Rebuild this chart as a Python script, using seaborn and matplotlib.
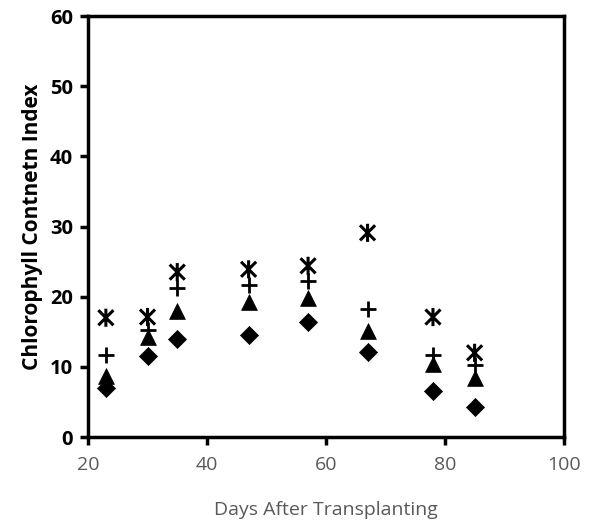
import numpy as np
import pandas as pd
import matplotlib
matplotlib.use("Agg")
import matplotlib.pyplot as plt
from matplotlib.path import Path
import seaborn as sns

days = [23, 30, 35, 47, 57, 67, 78, 85]
series_a = [7.0, 11.5, 14.0, 14.5, 16.4, 12.1, 6.5, 4.3]    # diamonds
series_b = [8.7, 14.3, 18.0, 19.2, 19.8, 15.1, 10.4, 8.4]   # triangles
series_c = [11.7, 15.2, 21.2, 21.6, 22.3, 18.2, 11.7, 10.3] # plus
series_d = [17.0, 17.1, 23.5, 23.9, 24.4, 29.1, 17.1, 12.0] # stars
series_names = ["A", "B", "C", "D"]
x_ticks = [20, 40, 60, 80, 100]
y_ticks = [0, 10, 20, 30, 40, 50, 60]

df = pd.concat([
    pd.DataFrame({"days": days, "value": vals, "series": name})
    for name, vals in zip(series_names, [series_a, series_b, series_c, series_d])
])

sns.set_theme(style="white")
plt.rcParams["font.family"] = ["Open Sans", "DejaVu Sans"]

star = Path([(-1, -1), (1, 1), (-1, 1), (1, -1), (0, -1.2), (0, 1.2)],
            [Path.MOVETO, Path.LINETO, Path.MOVETO, Path.LINETO, Path.MOVETO, Path.LINETO])

fig = plt.figure(figsize=(6.03, 5.23), dpi=100)
ax = fig.add_axes([0.146, 0.1644, 0.789, 0.805])

sns.scatterplot(data=df[df.series == "A"], x="days", y="value", marker="D",
                color="black", s=85, edgecolor="black", linewidth=0.5,
                legend=False, ax=ax)
sns.scatterplot(data=df[df.series == "B"], x="days", y="value", marker="^",
                color="black", s=130, edgecolor="black", linewidth=0.5,
                legend=False, ax=ax)
sns.scatterplot(data=df[df.series == "C"], x="days", y="value", marker="+",
                color="black", s=130, linewidth=2.0, legend=False, ax=ax)
sns.scatterplot(data=df[df.series == "D"], x="days", y="value", marker=star,
                color="black", facecolor="none", edgecolor="black", s=170,
                linewidth=2.2, legend=False, ax=ax)

ax.set_xlim(20, 100)
ax.set_ylim(0, 60)
ax.set_xticks(x_ticks)
ax.set_yticks(y_ticks)
for sp in ax.spines.values():
    sp.set_visible(True)
    sp.set_color("black")
    sp.set_linewidth(2.5)
ax.tick_params(axis="both", direction="out", length=6, width=2.5, color="black")
ax.tick_params(axis="y", left=True, labelsize=14.5, pad=5)
ax.tick_params(axis="x", bottom=True, labelsize=14, labelcolor="#595959", pad=8)
for lbl in ax.get_yticklabels():
    lbl.set_fontweight("bold")
    lbl.set_color("black")
ax.set_ylabel("Chlorophyll Contnetn Index", fontsize=15, fontweight="bold",
              color="black", labelpad=5)
ax.set_xlabel("Days After Transplanting", fontsize=14, color="#595959", labelpad=19)

fig.savefig("out.png", dpi=100, facecolor="white")
